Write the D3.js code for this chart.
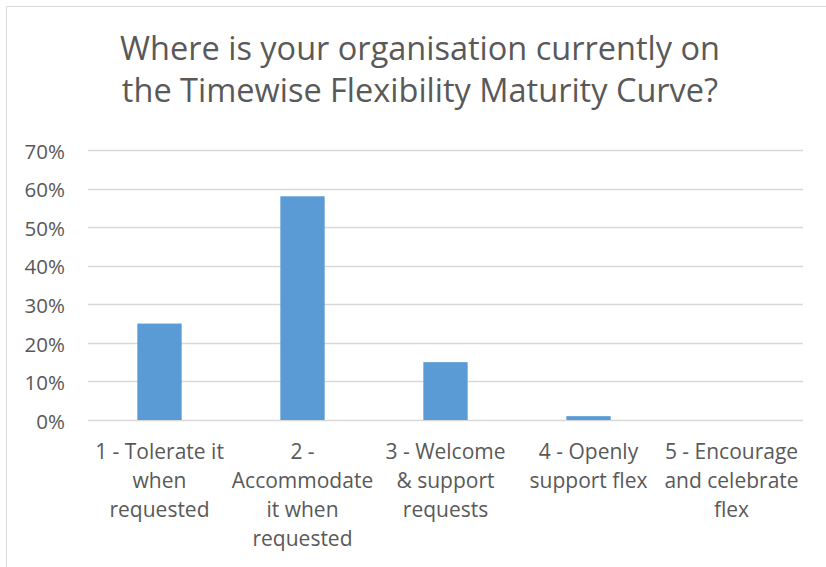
<!DOCTYPE html>
<html>
<head>
<meta charset="utf-8">
<script src="https://cdn.jsdelivr.net/npm/d3@7"></script>
<style>
  body { margin: 0; background: #fff; }
  text { font-family: "Open Sans", sans-serif; fill: #595959; }
</style>
</head>
<body>
<div id="container"></div>
<script>
const w = 826;
const h = 567;

const titleLines = ["Where is your organisation currently on", "the Timewise Flexibility Maturity Curve?"];
const categories = ["1", "2", "3", "4", "5"];
const categoryLines = [
  ["1 - Tolerate it", "when", "requested"],
  ["2 -", "Accommodate", "it when", "requested"],
  ["3 - Welcome", "& support", "requests"],
  ["4 - Openly", "support flex"],
  ["5 - Encourage", "and celebrate", "flex"]
];
const values = [0.25, 0.58, 0.15, 0.01, 0];
const yTicks = [0, 0.1, 0.2, 0.3, 0.4, 0.5, 0.6, 0.7];

const margin = {left: 88, right: 23, top: 150, bottom: 147};

const svg = d3.select("#container").append("svg")
  .attr("width", w)
  .attr("height", h);

// chart frame (only left and top edges are visible in the crop)
svg.append("path")
  .attr("d", "M6.5," + h + "V6.5H" + w)
  .attr("fill", "none")
  .attr("stroke", "#d9d9d9")
  .attr("stroke-width", 1);

const scalex = d3.scaleBand()
  .domain(categories)
  .range([margin.left, w - margin.right])
  .paddingInner(0.69)
  .paddingOuter(0.345);

const scaley = d3.scaleLinear()
  .domain([0, 0.7])
  .range([h - margin.bottom, margin.top]);

// title
svg.append("text")
  .attr("text-anchor", "middle")
  .style("font-size", "32.5px")
  .selectAll("tspan")
  .data(titleLines)
  .enter()
  .append("tspan")
  .attr("x", 420)
  .attr("y", (d, i) => 60 + i * 41.5)
  .text(d => d);

// gridlines
svg.append("g")
  .selectAll("line")
  .data(yTicks)
  .enter()
  .append("line")
  .attr("x1", margin.left)
  .attr("x2", w - margin.right)
  .attr("y1", d => Math.round(scaley(d)) + 0.5)
  .attr("y2", d => Math.round(scaley(d)) + 0.5)
  .attr("stroke", "#d9d9d9")
  .attr("stroke-width", 1.5);

// y axis labels
const axisy = d3.axisLeft(scaley)
  .tickValues(yTicks)
  .tickFormat(d3.format(".0%"))
  .tickSize(0)
  .tickPadding(0);

const yAxisGroup = svg.append("g")
  .attr("transform", "translate(65,0)")
  .call(axisy);
yAxisGroup.select(".domain").remove();
yAxisGroup.attr("font-family", null).attr("font-size", null);
yAxisGroup.selectAll("text")
  .style("font-size", "20.5px")
  .attr("dy", "0.4em")
  .attr("fill", "#595959");

// bars
svg.append("g")
  .selectAll("rect")
  .data(values)
  .enter()
  .append("rect")
  .attr("x", (d, i) => scalex(categories[i]))
  .attr("y", d => scaley(d))
  .attr("width", scalex.bandwidth())
  .attr("height", d => scaley(0) - scaley(d))
  .attr("fill", "#5b9bd5");

// category labels
const bandCenter = c => scalex(c) + scalex.bandwidth() / 2;
const labels = svg.append("g")
  .selectAll("text")
  .data(categories)
  .enter()
  .append("text")
  .attr("text-anchor", "middle")
  .style("font-size", "21px");

labels.selectAll("tspan")
  .data((c, i) => categoryLines[i].map(t => ({c: c, t: t})))
  .enter()
  .append("tspan")
  .attr("x", d => bandCenter(d.c))
  .attr("y", (d, i) => 459 + i * 29)
  .text(d => d.t);
</script>
</body>
</html>
